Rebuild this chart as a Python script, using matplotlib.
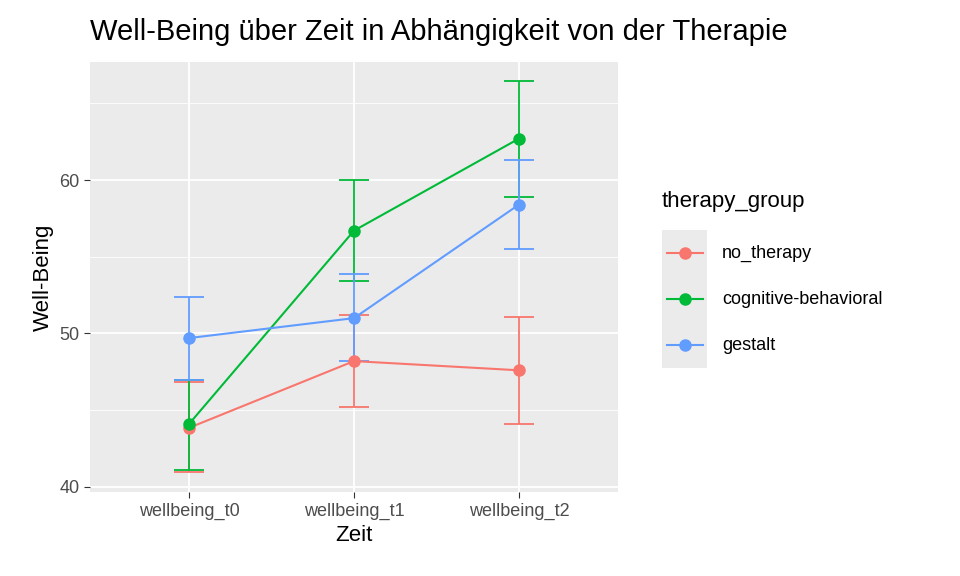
import matplotlib
matplotlib.use("Agg")
import matplotlib.pyplot as plt

plt.rcParams["font.family"] = ["Liberation Sans", "DejaVu Sans"]

zeit = ["wellbeing_t0", "wellbeing_t1", "wellbeing_t2"]
groups = ["no_therapy", "cognitive-behavioral", "gestalt"]
colors = ["#F8766D", "#00BA38", "#619CFF"]
means = {
    "no_therapy": [43.85, 48.2, 47.6],
    "cognitive-behavioral": [44.1, 56.7, 62.7],
    "gestalt": [49.7, 51.0, 58.4],
}
lower = {
    "no_therapy": [41.0, 45.2, 44.1],
    "cognitive-behavioral": [41.1, 53.4, 58.9],
    "gestalt": [47.0, 48.2, 55.5],
}
upper = {
    "no_therapy": [46.85, 51.2, 51.1],
    "cognitive-behavioral": [47.0, 60.0, 66.45],
    "gestalt": [52.4, 53.9, 61.3],
}

W, H = 960, 576
fig = plt.figure(figsize=(9.6, 5.76), dpi=100)
ax = fig.add_axes([90 / W, 1 - 492 / H, 528 / W, 430 / H])
ax.set_facecolor("#EBEBEB")
for s in ax.spines.values():
    s.set_visible(False)

x = list(range(len(zeit)))
for g, c in zip(groups, colors):
    m = means[g]
    err = [[mi - lo for mi, lo in zip(m, lower[g])], [hi - mi for mi, hi in zip(m, upper[g])]]
    ax.errorbar(x, m, yerr=err, color=c, capsize=11, elinewidth=1.3, capthick=1.3,
                marker="o", markersize=8, linewidth=1.5, zorder=3)

ax.set_xlim(-0.6, 2.6)
ax.set_ylim(39.67, 67.69)
ax.set_xticks(x)
ax.set_xticklabels(zeit)
ax.set_yticks([40, 50, 60])
ax.set_yticks([45, 55, 65], minor=True)
ax.grid(True, which="major", color="white", linewidth=1.3)
ax.grid(True, which="minor", axis="y", color="white", linewidth=0.6)
ax.set_axisbelow(True)
ax.tick_params(axis="both", which="major", colors="#333333", labelcolor="#4D4D4D",
               labelsize=13, length=4)
ax.tick_params(axis="y", which="minor", length=0)
ax.set_xlabel("Zeit", fontsize=16)
ax.set_ylabel("Well-Being", fontsize=16)
fig.text(90 / W, 1 - 32 / H, "Well-Being über Zeit in Abhängigkeit von der Therapie",
         fontsize=21, ha="left", va="center")

# legend
fig.text(662 / W, 1 - 202 / H, "therapy_group", fontsize=16, va="center")
lax = fig.add_axes([662 / W, 1 - 368 / H, 45 / W, 138 / H])
lax.set_facecolor("#EBEBEB")
lax.set_xlim(0, 1)
lax.set_ylim(0, 3)
lax.set_xticks([])
lax.set_yticks([])
for s in lax.spines.values():
    s.set_visible(False)
for i, (g, c) in enumerate(zip(groups, colors)):
    yy = 2.5 - i
    lax.plot([0.1, 0.9], [yy, yy], color=c, linewidth=1.5)
    lax.plot([0.5], [yy], "o", color=c, markersize=8)
    fig.text(722 / W, 1 - (253 + 46 * i) / H, g, fontsize=13, va="center")

fig.savefig("out.png", dpi=100)
